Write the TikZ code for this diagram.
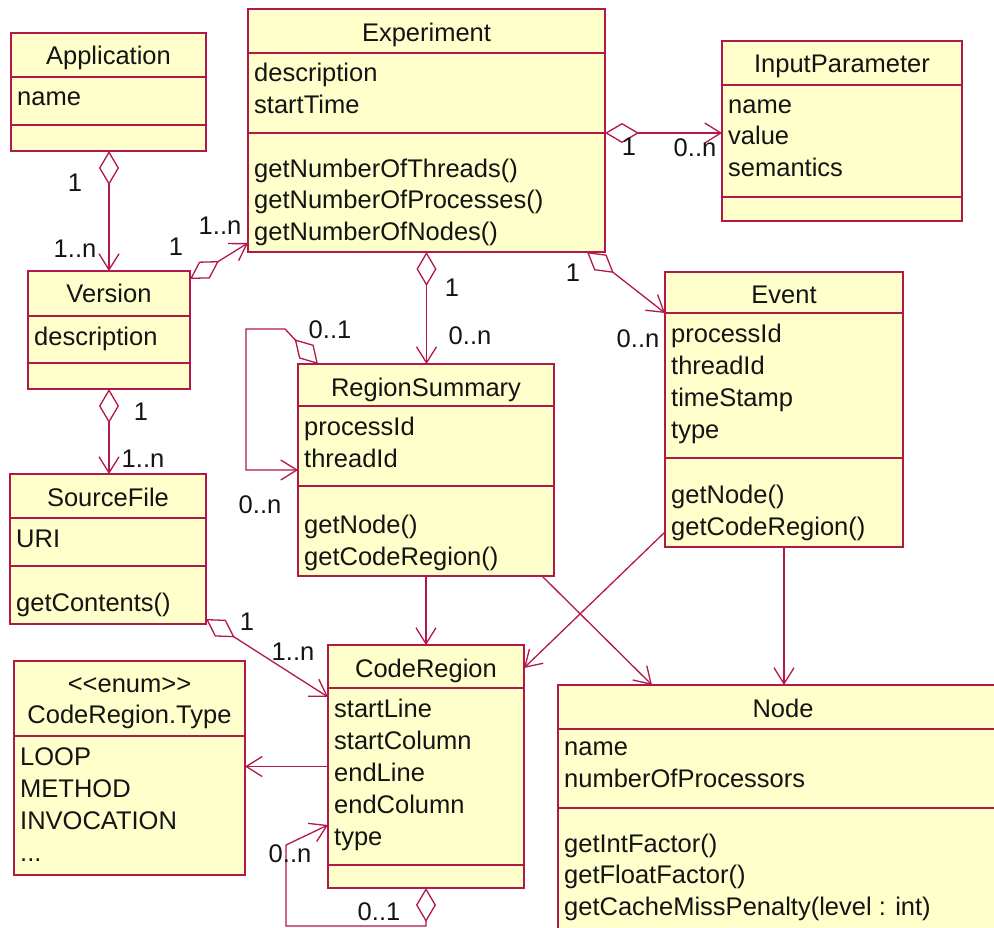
\documentclass[tikz,border=0pt]{standalone}
\usepackage{fontspec}
\setmainfont{Liberation Sans}
\usetikzlibrary{arrows.meta,calc}
\definecolor{umlline}{RGB}{178,24,72}
\definecolor{umlfill}{RGB}{255,255,204}
\definecolor{umltext}{RGB}{20,20,20}
\begin{document}
\begin{tikzpicture}[x=1pt,y=-1pt,
 cls/.style={draw=umlline,fill=umlfill,line width=1.5pt,rectangle,inner sep=0pt,outer sep=0pt,anchor=north west},
 div/.style={draw=umlline,line width=1.5pt},
 txt/.style={inner sep=0pt,anchor=base west,text=umltext,font=\fontsize{25.5}{30}\selectfont},
 ttl/.style={inner sep=0pt,anchor=base,text=umltext,font=\fontsize{25.5}{30}\selectfont},
 mult/.style={inner sep=0pt,text=umltext,font=\fontsize{25.5}{30}\selectfont},
 conn/.style={draw=umlline,line width=1.3pt},
 agg/.style={conn,{Diamond[open,length=34pt,width=20pt]}-{Straight Barb[length=16pt,width=20pt]}},
 nav/.style={conn,-{Straight Barb[length=16pt,width=20pt]}}]
\fill[white] (0,0) rectangle (994,928);
\clip (0,0) rectangle (994,928);

% ---------- class boxes ----------
\node[cls,minimum width=195pt,minimum height=118pt] (app) at (11,33) {};
\node[cls,minimum width=357pt,minimum height=243pt] (exp) at (248,9) {};
\node[cls,minimum width=240pt,minimum height=180pt] (inp) at (722,41) {};
\node[cls,minimum width=162pt,minimum height=118pt] (ver) at (28,271) {};
\node[cls,minimum width=196pt,minimum height=150pt] (sf) at (10,474) {};
\node[cls,minimum width=256pt,minimum height=212pt] (rs) at (298,364) {};
\node[cls,minimum width=238pt,minimum height=275pt] (ev) at (665,272) {};
\node[cls,minimum width=196pt,minimum height=243pt] (cr) at (328,645) {};
\node[cls,minimum width=231pt,minimum height=214pt] (crt) at (14,661) {};
\node[cls,minimum width=450pt,minimum height=300pt] (nd) at (558,685) {};

% ---------- compartment dividers ----------
\draw[div] (11,77) -- (206,77);   \draw[div] (11,125) -- (206,125);
\draw[div] (248,53) -- (605,53);  \draw[div] (248,133) -- (605,133);
\draw[div] (722,85) -- (962,85);  \draw[div] (722,197) -- (962,197);
\draw[div] (28,316) -- (190,316); \draw[div] (28,363) -- (190,363);
\draw[div] (10,518) -- (206,518); \draw[div] (10,566) -- (206,566);
\draw[div] (298,406) -- (554,406); \draw[div] (298,486) -- (554,486);
\draw[div] (665,313) -- (903,313); \draw[div] (665,458) -- (903,458);
\draw[div] (328,688) -- (524,688); \draw[div] (328,865) -- (524,865);
\draw[div] (14,736) -- (245,736);
\draw[div] (558,729) -- (1008,729); \draw[div] (558,808) -- (1008,808);

% ---------- texts ----------
\node[ttl] (appT) at (108.5,65) {Application};
\node[txt] (appA1) at (17,106) {name};

\node[ttl] (expT) at (426.5,42) {Experiment};
\node[txt] (expA1) at (254,82) {description};
\node[txt] (expA2) at (254,114) {startTime};
\node[txt] (expM1) at (254,178) {getNumberOfThreads()};
\node[txt] (expM2) at (254,209) {getNumberOfProcesses()};
\node[txt] (expM3) at (254,241) {getNumberOfNodes()};

\node[ttl] (inpT) at (842,73) {InputParameter};
\node[txt] (inpA1) at (728,114) {name};
\node[txt] (inpA2) at (728,145) {value};
\node[txt] (inpA3) at (728,177) {semantics};

\node[ttl] (verT) at (109,303) {Version};
\node[txt] (verA1) at (34,345) {description};

\node[ttl] (sfT) at (108,506) {SourceFile};
\node[txt] (sfA1) at (16,547) {URI};
\node[txt] (sfM1) at (16,611) {getContents()};

\node[ttl] (rsT) at (426,396) {RegionSummary};
\node[txt] (rsA1) at (304,435) {processId};
\node[txt] (rsA2) at (304,467) {threadId};
\node[txt] (rsM1) at (304,533) {getNode()};
\node[txt] (rsM2) at (304,565) {getCodeRegion()};

\node[ttl] (evT) at (784,304) {Event};
\node[txt] (evA1) at (671,342) {processId};
\node[txt] (evA2) at (671,374) {threadId};
\node[txt] (evA3) at (671,406) {timeStamp};
\node[txt] (evA4) at (671,438) {type};
\node[txt] (evM1) at (671,503) {getNode()};
\node[txt] (evM2) at (671,535) {getCodeRegion()};

\node[ttl] (crT) at (426,677) {CodeRegion};
\node[txt] (crA1) at (334,717) {startLine};
\node[txt] (crA2) at (334,749) {startColumn};
\node[txt] (crA3) at (334,781) {endLine};
\node[txt] (crA4) at (334,813) {endColumn};
\node[txt] (crA5) at (334,845) {type};

\node[ttl] (crtS) at (129.5,692) {<{}<enum>{}>};
\node[ttl] (crtT) at (129.5,723) {CodeRegion.Type};
\node[txt] (crtA1) at (20,765) {LOOP};
\node[txt] (crtA2) at (20,797) {METHOD};
\node[txt] (crtA3) at (20,829) {INVOCATION};
\node[txt] (crtA4) at (20,861) {...};

\node[ttl] (ndT) at (783,717) {Node};
\node[txt] (ndA1) at (564,755) {name};
\node[txt] (ndA2) at (564,787) {numberOfProcessors};
\node[txt] (ndM1) at (564,852) {getIntFactor()};
\node[txt] (ndM2) at (564,883) {getFloatFactor()};
\node[txt] (ndM3) at (564,915) {getCacheMissPenalty(level : int)};

% ---------- connectors ----------
\draw[agg] (app.south -| ver.north) -- (ver.north);
\draw[agg] ($(ver.north east)+(0,8)$) -- ($(exp.south west)+(0,-9)$);
\draw[agg] ($(exp.east)+(0,2.5)$) -- ($(exp.east -| inp.west)+(0,2.5)$);
\draw[agg] (exp.south) -- (exp.south |- rs.north);
\draw[agg] ($(exp.south east)+(-18,0)$) -- ($(ev.north west)+(0,41)$);
\draw[agg] ($(rs.north west)+(20,0)$) -- ($(rs.north west)+(-13,-35)$)
   -- ($(rs.north west)+(-52,-35)$) -- ($(rs.north west)+(-52,106)$)
   -- ($(rs.north west)+(0,106)$);
\draw[agg] (ver.south) -- (ver.south |- sf.north);
\draw[agg] ($(sf.south east)+(0,-5)$) -- ($(cr.north west)+(0,52)$);
\draw[nav] (rs.south) -- (rs.south |- cr.north);
\draw[nav] ($(rs.south east)+(-12,0)$) -- ($(nd.north west)+(94,0)$);
\draw[nav] ($(ev.south west)+(0,-15)$) -- ($(cr.north east)+(0,23)$);
\draw[nav] (ev.south) -- (ev.south |- nd.north);
\draw[nav] (cr.west) -- (cr.west -| crt.east);
\draw[agg] (cr.south) -- ($(cr.south)+(0,38)$) -- ($(cr.south west)+(-42,38)$)
   -- ($(cr.south west)+(-42,-43)$) -- ($(cr.north west)+(0,180)$);

% ---------- multiplicities ----------
\node[mult] (m1) at (75,183) {1};
\node[mult] (m2) at (75,249) {1..n};
\node[mult] (m3) at (176,247) {1};
\node[mult] (m4) at (220,226) {1..n};
\node[mult] (m5) at (629,147) {1};
\node[mult] (m6) at (695,148) {0..n};
\node[mult] (m7) at (452,288) {1};
\node[mult] (m8) at (470,336) {0..n};
\node[mult] (m9) at (573,273) {1};
\node[mult] (m10) at (638,339) {0..n};
\node[mult] (m11) at (330,330) {0..1};
\node[mult] (m12) at (260,505) {0..n};
\node[mult] (m13) at (141,412) {1};
\node[mult] (m14) at (143,459) {1..n};
\node[mult] (m15) at (247,622) {1};
\node[mult] (m16) at (293,652) {1..n};
\node[mult] (m17) at (290,854) {0..n};
\node[mult] (m18) at (379,912) {0..1};
\end{tikzpicture}
\end{document}
